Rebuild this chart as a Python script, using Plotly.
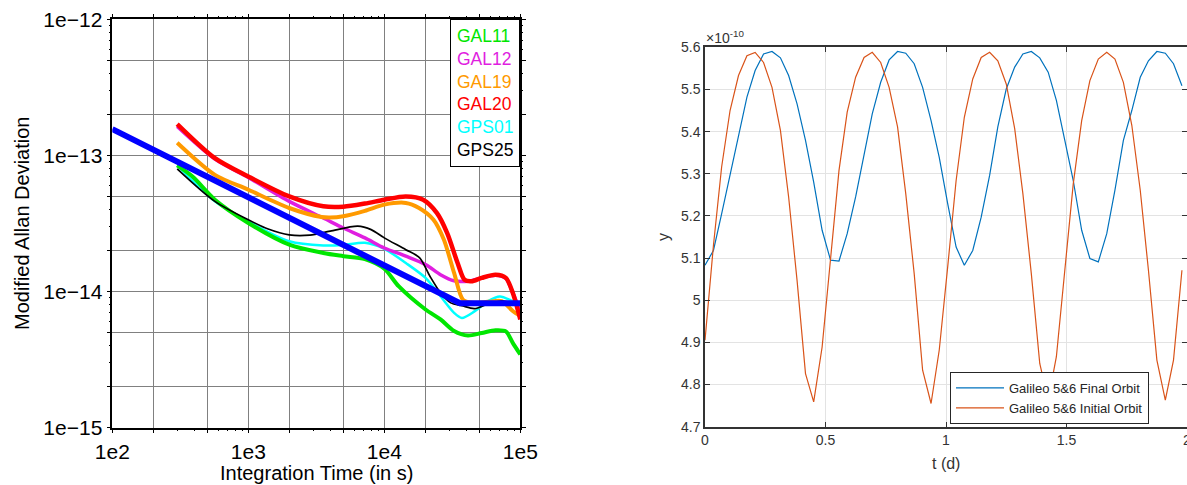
import plotly.graph_objects as go

W, H = 1187, 485
def px(x): return x / W
def py(y): return 1 - y / H

# ---------------- Left panel data (Modified Allan Deviation) ----------------
gal11_x = [300, 389, 568, 1000, 2000, 3560, 5000, 7200, 10000, 12800, 20100, 25900, 32600, 41200, 52000, 65700, 78300, 88000, 100000]
gal11_y = [8.45e-14, 7.0e-14, 4.73e-14, 3.19e-14, 2.21e-14, 1.92e-14, 1.82e-14, 1.73e-14, 1.47e-14, 1.09e-14, 7.38e-15, 6.24e-15, 5.13e-15, 4.75e-15, 4.96e-15, 5.2e-15, 5.1e-15, 4.2e-15, 3.45e-15]

gal12_x = [300, 568, 1000, 2000, 3560, 5000, 7200, 10000, 14400, 20100, 25900, 32600, 41200, 52000, 65700, 78300, 88000, 100000]
gal12_y = [1.63e-13, 9.4e-14, 6.9e-14, 4.6e-14, 3.47e-14, 2.93e-14, 2.48e-14, 2.09e-14, 1.82e-14, 1.58e-14, 1.33e-14, 1.2e-14, 1.19e-14, 1.26e-14, 1.32e-14, 1.25e-14, 9.8e-15, 7.2e-15]

gal19_x = [300, 568, 1000, 2000, 3460, 4000, 5000, 7200, 10000, 14400, 18000, 23000, 27400, 32600, 37800, 43700, 57800, 73000, 88000, 100000]
gal19_y = [1.24e-13, 7.2e-14, 5.6e-14, 4.11e-14, 3.53e-14, 3.5e-14, 3.58e-14, 3.92e-14, 4.35e-14, 4.48e-14, 4.11e-14, 3.37e-14, 2.41e-14, 1.37e-14, 8.74e-15, 8.3e-15, 8.4e-15, 8.5e-15, 7.2e-15, 6.6e-15]

gal20_x = [300, 568, 1000, 2000, 3560, 5000, 7200, 10000, 14400, 19300, 24400, 29000, 34600, 38900, 43700, 52000, 65700, 78300, 88000, 100000]
gal20_y = [1.70e-13, 9.55e-14, 7.0e-14, 5.0e-14, 4.23e-14, 4.2e-14, 4.43e-14, 4.73e-14, 5.0e-14, 4.73e-14, 3.77e-14, 2.69e-14, 1.62e-14, 1.22e-14, 1.19e-14, 1.26e-14, 1.33e-14, 1.26e-14, 9.8e-15, 6.24e-15]

gps01_x = [300, 568, 1000, 2000, 3560, 5000, 7200, 10000, 14400, 20100, 25900, 32600, 37200, 46000, 57800, 70800, 88000, 100000]
gps01_y = [8.45e-14, 4.6e-14, 3.27e-14, 2.34e-14, 2.18e-14, 2.2e-14, 2.28e-14, 2.06e-14, 1.62e-14, 1.26e-14, 9.25e-15, 6.98e-15, 6.4e-15, 7.15e-15, 8.5e-15, 9.2e-15, 8.5e-15, 8.1e-15]

gps25_x = [300, 568, 1000, 1400, 2000, 2840, 4000, 6380, 8000, 10000, 14400, 18200, 21700, 25900, 30800, 37200, 46000, 57800, 73000, 100000]
gps25_y = [7.98e-14, 4.6e-14, 3.37e-14, 2.88e-14, 2.61e-14, 2.6e-14, 2.78e-14, 3.02e-14, 2.85e-14, 2.48e-14, 2.03e-14, 1.77e-14, 1.29e-14, 9.8e-15, 8.26e-15, 7.87e-15, 7.5e-15, 8.1e-15, 8.5e-15, 8.1e-15]

model_x = [100, 36000, 100000]
model_y = [1.56e-13, 8.2e-15, 8.2e-15]

left_names = ["GAL11", "GAL12", "GAL19", "GAL20", "GPS01", "GPS25"]
left_colors = ["#00e600", "#e01ee0", "#ff9a00", "#ff0000", "#00ffff", "#000000"]

xt_vals = [100, 1000, 10000, 100000]
xt_text = ["1e2", "1e3", "1e4", "1e5"]
yt_vals = [1e-15, 1e-14, 1e-13, 1e-12]
yt_text = ["1e\u221215", "1e\u221214", "1e\u221213", "1e\u221212"]
x_grid_mid = [200, 500, 2000, 5000, 20000, 50000]
y_grid_mid = [2e-15, 5e-15, 2e-14, 5e-14, 2e-13, 5e-13]
x_small = [300, 400, 600, 700, 800, 900, 3000, 4000, 6000, 7000, 8000, 9000,
           30000, 40000, 60000, 70000, 80000, 90000]
y_small = [3e-15, 4e-15, 6e-15, 7e-15, 8e-15, 9e-15, 3e-14, 4e-14, 6e-14, 7e-14, 8e-14, 9e-14,
           3e-13, 4e-13, 6e-13, 7e-13, 8e-13, 9e-13]

# ---------------- Right panel data ----------------
t_days = [0.000, 0.035, 0.069, 0.104, 0.139, 0.174, 0.208, 0.243, 0.278, 0.313,
          0.347, 0.382, 0.417, 0.451, 0.486, 0.521, 0.556, 0.590, 0.625, 0.660,
          0.694, 0.729, 0.764, 0.799, 0.833, 0.868, 0.903, 0.938, 0.972, 1.007,
          1.042, 1.076, 1.111, 1.146, 1.181, 1.215, 1.250, 1.285, 1.319, 1.354,
          1.389, 1.424, 1.458, 1.493, 1.528, 1.563, 1.597, 1.632, 1.667, 1.701,
          1.736, 1.771, 1.806, 1.840, 1.875, 1.910, 1.944, 1.979]
final_orbit = [5.083, 5.118, 5.205, 5.300, 5.395, 5.482, 5.545, 5.584, 5.590, 5.575,
               5.533, 5.466, 5.379, 5.280, 5.166, 5.095, 5.093, 5.158, 5.245, 5.347,
               5.442, 5.517, 5.570, 5.590, 5.586, 5.561, 5.505, 5.426, 5.339, 5.229,
               5.126, 5.083, 5.118, 5.197, 5.296, 5.411, 5.501, 5.553, 5.584, 5.590,
               5.575, 5.541, 5.474, 5.379, 5.284, 5.166, 5.099, 5.091, 5.158, 5.261,
               5.379, 5.450, 5.529, 5.568, 5.590, 5.586, 5.561, 5.509]
initial_orbit = [4.905, 5.130, 5.316, 5.450, 5.533, 5.580, 5.588, 5.564, 5.505, 5.403,
                 5.245, 5.047, 4.826, 4.759, 4.889, 5.095, 5.308, 5.446, 5.529, 5.576,
                 5.588, 5.564, 5.505, 5.411, 5.253, 5.063, 4.834, 4.755, 4.882, 5.079,
                 5.284, 5.434, 5.525, 5.576, 5.588, 5.568, 5.513, 5.407, 5.253, 5.063,
                 4.850, 4.763, 4.866, 5.071, 5.276, 5.426, 5.521, 5.572, 5.588, 5.572,
                 5.517, 5.415, 5.261, 5.071, 4.858, 4.763, 4.858, 5.071]
right_names = ["Galileo 5&6 Final Orbit", "Galileo 5&6 Initial Orbit"]
right_colors = ["#0072BD", "#D95319"]
rx_vals = [0, 0.5, 1, 1.5, 2]
rx_text = ["0", "0.5", "1", "1.5", "2"]
ry_vals = [4.7, 4.8, 4.9, 5.0, 5.1, 5.2, 5.3, 5.4, 5.5, 5.6]
ry_text = ["4.7", "4.8", "4.9", "5", "5.1", "5.2", "5.3", "5.4", "5.5", "5.6"]

fig = go.Figure()

left_series = [
    (gps01_x, gps01_y, 4, 2.5),
    (gal11_x, gal11_y, 0, 4),
    (gal12_x, gal12_y, 1, 3.5),
    (gal19_x, gal19_y, 2, 4),
    (gal20_x, gal20_y, 3, 4.5),
    (gps25_x, gps25_y, 5, 1.7),
]
for xs, ys, i, w in left_series:
    fig.add_trace(go.Scatter(x=xs, y=ys, mode="lines", name=left_names[i],
                             line=dict(color=left_colors[i], width=w, shape="spline", smoothing=0.8),
                             showlegend=False, xaxis="x", yaxis="y"))
fig.add_trace(go.Scatter(x=model_x, y=model_y, mode="lines", name="model",
                         line=dict(color="#0000ff", width=6), showlegend=False,
                         xaxis="x", yaxis="y"))
# empty trace that carries the overlay axes used for the small log ticks
fig.add_trace(go.Scatter(x=[], y=[], mode="lines", showlegend=False, hoverinfo="skip",
                         xaxis="x3", yaxis="y3"))

fig.add_trace(go.Scatter(x=t_days, y=final_orbit, mode="lines", name=right_names[0],
                         line=dict(color=right_colors[0], width=1.2), xaxis="x2", yaxis="y2"))
fig.add_trace(go.Scatter(x=t_days, y=initial_orbit, mode="lines", name=right_names[1],
                         line=dict(color=right_colors[1], width=1.2), xaxis="x2", yaxis="y2"))

FONT = "Liberation Sans, Arial, Helvetica, sans-serif"
lfont = dict(family=FONT, size=21, color="black")
LX_DOM = [px(112.3), px(520.3)]
LY_DOM = [py(427.7), py(19.3)]

common_left = dict(showline=True, linecolor="black", linewidth=1.5, mirror="allticks",
                   ticks="outside", ticklen=4, tickcolor="black", tickwidth=1,
                   showgrid=True, gridcolor="#808080", gridwidth=1, zeroline=False,
                   automargin=False, tickfont=lfont, ticklabeloverflow="allow")
common_right = dict(showline=True, linecolor="#333333", linewidth=1.5, mirror="ticks",
                    ticks="inside", ticklen=5, tickcolor="#333333", tickwidth=1,
                    showgrid=True, gridcolor="#e3e3e3", gridwidth=1, zeroline=False,
                    automargin=False, ticklabeloverflow="allow",
                    tickfont=dict(family=FONT, size=14, color="#333333"))

fig.update_layout(
    width=W, height=H, margin=dict(l=0, r=0, t=0, b=0, autoexpand=False),
    paper_bgcolor="white", plot_bgcolor="white",
    font=dict(family=FONT),
    xaxis=dict(type="log", range=[2, 5], domain=LX_DOM, anchor="y",
               tickmode="array", tickvals=xt_vals, ticktext=xt_text,
               minor=dict(tickmode="array", tickvals=x_grid_mid, ticks="outside", ticklen=4,
                          tickcolor="black", showgrid=True, gridcolor="#808080", gridwidth=1),
               **common_left),
    yaxis=dict(type="log", range=[-15, -12], domain=LY_DOM, anchor="x",
               tickmode="array", tickvals=yt_vals, ticktext=yt_text,
               minor=dict(tickmode="array", tickvals=y_grid_mid, ticks="outside", ticklen=4,
                          tickcolor="black", showgrid=True, gridcolor="#808080", gridwidth=1),
               **common_left),
    xaxis3=dict(type="log", range=[2, 5], domain=LX_DOM, anchor="y3", overlaying="x",
                tickmode="array", tickvals=x_small, showticklabels=False,
                ticks="outside", ticklen=2, tickcolor="black", mirror="allticks",
                showline=False, showgrid=False, zeroline=False, automargin=False),
    yaxis3=dict(type="log", range=[-15, -12], domain=LY_DOM, anchor="x3", overlaying="y",
                tickmode="array", tickvals=y_small, showticklabels=False,
                ticks="outside", ticklen=2, tickcolor="black", mirror="allticks",
                showline=False, showgrid=False, zeroline=False, automargin=False),
    xaxis2=dict(range=[0, 2], domain=[px(705), 1.0], anchor="y2",
                tickmode="array", tickvals=rx_vals, ticktext=rx_text, **common_right),
    yaxis2=dict(range=[4.7, 5.6], domain=[py(426.7), py(47.3)], anchor="x2",
                tickmode="array", tickvals=ry_vals, ticktext=ry_text, **common_right),
    legend=dict(x=px(950), y=py(372), xanchor="left", yanchor="top",
                bgcolor="white", bordercolor="#262626", borderwidth=1, itemwidth=48,
                font=dict(family=FONT, size=13, color="#262626"), tracegroupgap=0),
)

legend_text = "<br>".join(
    f"<span style='color:{c}'>{n}</span>" for n, c in zip(left_names, left_colors))

annotations = [
    dict(text="Integration Time (in s)", x=px(316), y=py(473), xref="paper", yref="paper",
         showarrow=False, xanchor="center", yanchor="middle", font=dict(size=20, color="black")),
    dict(text="Modified Allan Deviation", x=px(22), y=py(224), xref="paper", yref="paper",
         showarrow=False, textangle=-90, xanchor="center", yanchor="middle",
         font=dict(size=20, color="black")),
    dict(text=legend_text, x=px(520.3), y=py(19.3), xref="paper", yref="paper",
         showarrow=False, xanchor="right", yanchor="top", align="left",
         bgcolor="white", bordercolor="black", borderwidth=1, borderpad=6,
         font=dict(size=17.5)),
    dict(text="t (d)", x=px(946), y=py(463), xref="paper", yref="paper",
         showarrow=False, xanchor="center", yanchor="middle", font=dict(size=16, color="#333333")),
    dict(text="y", x=px(663), y=py(237), xref="paper", yref="paper", textangle=-90,
         showarrow=False, xanchor="center", yanchor="middle", font=dict(size=16, color="#333333")),
    dict(text="\u00d710<sup>-10</sup>", x=px(704), y=py(37), xref="paper", yref="paper",
         showarrow=False, xanchor="left", yanchor="middle", font=dict(size=14, color="#333333")),
]
fig.update_layout(annotations=annotations)

fig.write_html("out.html", config={"displayModeBar": False},
               post_script="document.body.style.margin='0';document.body.style.overflow='hidden';")
